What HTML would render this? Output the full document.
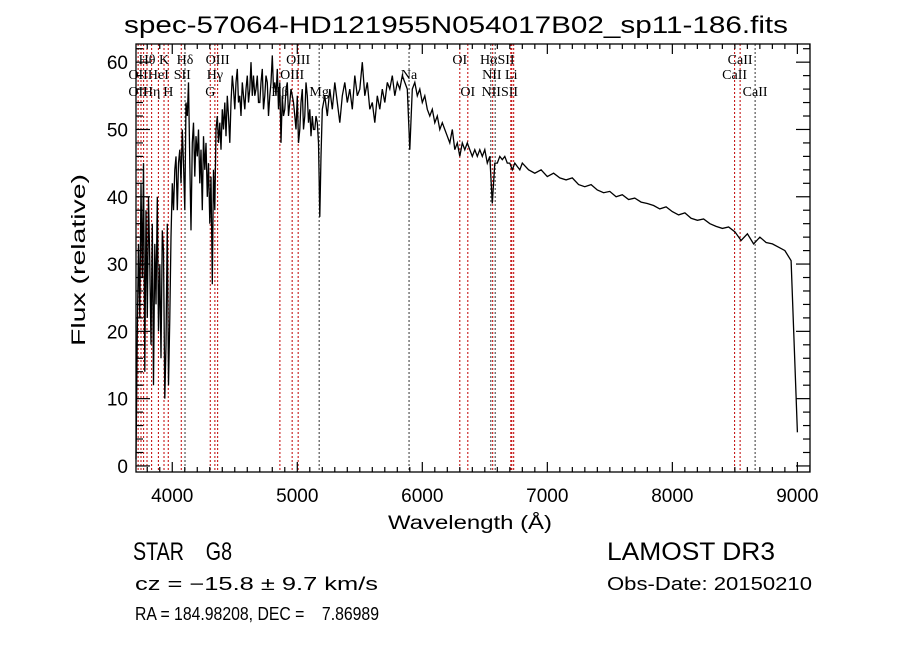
<!DOCTYPE html>
<html><head><meta charset="utf-8"><style>
html,body{margin:0;padding:0;background:#fff;}
svg{display:block;}
text{font-family:"Liberation Sans",sans-serif;fill:#000;}
.ser{font-family:"Liberation Serif",serif;}
</style></head><body>
<svg id="chart" width="900" height="649" viewBox="0 0 900 649" xmlns="http://www.w3.org/2000/svg">
<rect width="900" height="649" fill="#fff"/>
<text x="456" y="33" text-anchor="middle" font-size="24" textLength="664" lengthAdjust="spacingAndGlyphs">spec-57064-HD121955N054017B02_sp11-186.fits</text>
<g id="lines"></g>
<g id="labels"></g>
<path id="spec" fill="none" stroke="#000" stroke-width="1.3"/>
<g id="axes"></g>
<text x="470" y="529" text-anchor="middle" font-size="19" textLength="164" lengthAdjust="spacingAndGlyphs">Wavelength (Å)</text>
<text transform="translate(85,260) rotate(-90)" text-anchor="middle" font-size="19" textLength="172" lengthAdjust="spacingAndGlyphs">Flux (relative)</text>
<text x="133" y="560" font-size="25" textLength="99" lengthAdjust="spacingAndGlyphs" xml:space="preserve">STAR    G8</text>
<text x="607" y="560" font-size="25" textLength="168" lengthAdjust="spacingAndGlyphs">LAMOST DR3</text>
<text x="135" y="590" font-size="18" textLength="243" lengthAdjust="spacingAndGlyphs">cz = −15.8 ± 9.7 km/s</text>
<text x="607" y="590" font-size="18" textLength="205" lengthAdjust="spacingAndGlyphs">Obs-Date: 20150210</text>
<text x="135" y="620" font-size="18" textLength="244" lengthAdjust="spacingAndGlyphs" xml:space="preserve">RA = 184.98208, DEC =    7.86989</text>
</svg>
<script>
const wave = [
3710,3720,3730,3740,3750,3760,3770,3780,3790,3800,
3810,3820,3830,3840,3850,3860,3870,3880,3890,3900,
3910,3920,3930,3940,3950,3960,3970,3980,3990,4000,
4010,4020,4030,4040,4050,4060,4070,4080,4090,4100,
4110,4120,4130,4140,4150,4160,4170,4180,4190,4200,
4210,4220,4230,4240,4250,4260,4270,4280,4290,4300,
4310,4320,4330,4340,4350,4360,4370,4380,4390,4400,
4410,4420,4430,4440,4450,4460,4470,4480,4490,4500,
4510,4520,4530,4540,4550,4560,4570,4580,4590,4600,
4610,4620,4630,4640,4650,4660,4670,4680,4690,4700,
4710,4720,4730,4740,4750,4760,4770,4780,4790,4800,
4810,4820,4830,4840,4850,4860,4870,4880,4890,4900,
4910,4920,4930,4940,4950,4960,4970,4980,4990,5000,
5010,5020,5030,5040,5050,5060,5070,5080,5090,5100,
5110,5120,5130,5140,5150,5160,5170,5180,5190,5200,
5220,5240,5260,5280,5300,5320,5340,5360,5380,5400,
5420,5440,5460,5480,5500,5520,5540,5560,5580,5600,
5620,5640,5660,5680,5700,5720,5740,5760,5780,5800,
5820,5840,5860,5880,5900,5920,5940,5960,5980,6000,
6020,6040,6060,6080,6100,6120,6140,6160,6180,6200,
6220,6240,6260,6280,6300,6320,6340,6360,6380,6400,
6420,6440,6460,6480,6500,6520,6540,6560,6580,6600,
6620,6640,6660,6680,6700,6720,6740,6760,6780,6800,
6850,6900,6950,7000,7050,7100,7150,7200,7250,7300,
7350,7400,7450,7500,7550,7600,7650,7700,7750,7800,
7850,7900,7950,8000,8050,8100,8150,8200,8250,8300,
8350,8400,8450,8500,8550,8600,8650,8700,8750,8800,
8850,8900,8950,9000];
const flux = [
1,20,33,22,42,28,45,14,38,22,
40,30,18,36,12,33,24,40,20,30,
16,35,32,10,18,36,12,22,34,42,
38,44,46,38,45,47,42,50,45,38,
54,52,57,45,35,48,51,43,49,46,
50,42,47,38,49,44,48,40,45,36,
43,27,44,38,50,52,48,51,47,53,
50,54,49,55,52,48,54,58,56,53,
57,59,54,55,52,57,55,53,56,58,
54,56,60,55,58,55,56,58,54,54,
57,59,53,55,58,57,52,55,57,61,
56,57,55,59,53,57,48,55,52,53,
56,57,52,54,56,55,54,52,50,55,
48,50,54,56,50,52,57,55,51,53,
49,52,50,50,52,51,48,37,46,53,
55,52,56,53,57,54,51,55,57,54,
56,53,58,55,56,60,55,57,53,54,
51,55,53,56,54,57,56,58,55,57,
56,58,57,56,47,56,57,55,56,54,
55,53,52,53,51,52,50,51,50,49,
48,50,47,48,46,48,47,48,47,46,
47,46,47,46,47,45,46,39,45,45,
46,45.5,46,45,45,44,45,44.5,44,45,
44,43.5,44,43,43.5,42.8,42.5,42.8,41.8,41.5,
41.8,41,40.6,40.8,40,40.3,39.6,39.8,39.2,39,
38.7,38.2,38.5,37.8,37.3,37.6,36.8,36.5,36.7,36,
35.6,35.3,35.5,34.8,33.5,34.5,33,34,33.2,33,
32.5,32,30.5,5];
const xTicks = [4000,5000,6000,7000,8000,9000];
const yTicks = [0,10,20,30,40,50,60];
const lineWaves = [3727,3750,3771,3798,3835,3889,3934,3968,4072,4102,4304,4341,4363,4861,4959,5007,5175,5894,6300,6364,6548,6563,6583,6708,6716,6731,8498,8542,8662];
const lineColors = ['r','r','r','r','r','r','r','r','r','k','r','r','r','r','r','r','k','k','r','r','k','r','k','r','r','r','r','r','k'];
const labelTexts = ['Hθ','K','Hδ','OIII','OIII','OI','HαSII','CaII','OII','HeI','SII','Hγ','OIII','Na','NII Li','CaII','OII','Hη','H','G','Hβ','Mg','OI','NIISII','CaII'];
const labelWaves = [3798,3934,4102,4363,5007,6300,6600,8542,3727,3889,4080,4341,4959,5894,6620,8498,3727,3835,3968,4304,4861,5175,6364,6620,8662];
const labelRows = [1,1,1,1,1,1,1,1,2,2,2,2,2,2,2,2,3,3,3,3,3,3,3,3,3];

const X0=136,X1=810,Y0=472,Y1=44, WMIN=3710, WMAX=9101, FMIN=-0.9, FMAX=62.7;
const xs = w => X0+(w-WMIN)/(WMAX-WMIN)*(X1-X0);
const ys = f => Y0-(f-FMIN)/(FMAX-FMIN)*(Y0-Y1);
const NS='http://www.w3.org/2000/svg';
function mk(tag, attrs, parent){const e=document.createElementNS(NS,tag);for(const k in attrs)e.setAttribute(k,attrs[k]);parent.appendChild(e);return e;}

const gl=document.getElementById('lines');
lineWaves.forEach((w,i)=>{
  const e=mk('line',{x1:xs(w),x2:xs(w),y1:Y1,y2:Y0,stroke:lineColors[i]==='r'?'#c00000':'#333','stroke-width':1,'stroke-dasharray':'2,2'},gl);
  
  
});
const glb=document.getElementById('labels');
const rowY=[0,64,79,96];
labelTexts.forEach((t,i)=>{
  const e=mk('text',{x:xs(labelWaves[i]),y:rowY[labelRows[i]],'text-anchor':'middle','font-size':14,class:'ser'},glb);
  e.textContent=t;
  
  
});

let d='';
const n=Math.min(wave.length,flux.length);
for(let i=0;i<n;i++){d+=(i?'L':'M')+xs(wave[i]).toFixed(1)+','+ys(flux[i]).toFixed(1);}
document.getElementById('spec').setAttribute('d',d);

const ga=document.getElementById('axes');
const fr=mk('rect',{x:X0,y:Y1,width:X1-X0,height:Y0-Y1,fill:'none',stroke:'#000','stroke-width':1.3},ga);


for(let w=3800; w<=9100; w+=100){
  const maj = w%1000===0, L = maj?10:5;
  mk('line',{x1:xs(w),x2:xs(w),y1:Y0,y2:Y0-L,stroke:'#000','stroke-width':1.2},ga);
  mk('line',{x1:xs(w),x2:xs(w),y1:Y1,y2:Y1+L,stroke:'#000','stroke-width':1.2},ga);
}
xTicks.forEach(w=>{
  const e=mk('text',{x:xs(w),y:502,'text-anchor':'middle','font-size':19},ga);
  e.textContent=w;
  
  
});
for(let f=0; f<=62; f+=2){
  const maj=f%10===0, L=maj?14:7;
  mk('line',{x1:X0,x2:X0+L,y1:ys(f),y2:ys(f),stroke:'#000','stroke-width':1.2},ga);
  mk('line',{x1:X1,x2:X1-L,y1:ys(f),y2:ys(f),stroke:'#000','stroke-width':1.2},ga);
}
yTicks.forEach(f=>{
  const e=mk('text',{x:128,y:ys(f)+7,'text-anchor':'end','font-size':19},ga);
  e.textContent=f;
  
  
});
</script>
</body></html>
